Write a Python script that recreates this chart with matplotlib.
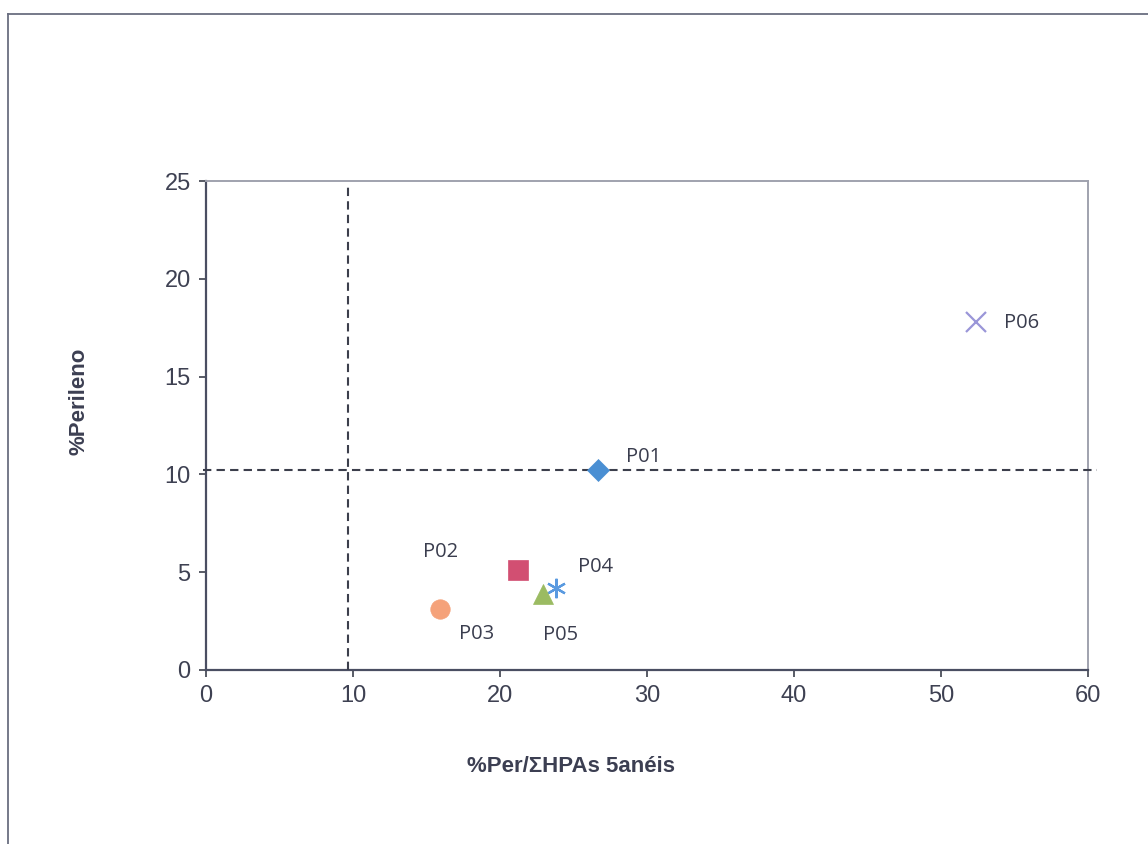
import matplotlib.pyplot as plt
from matplotlib.lines import Line2D

# Sample points: %Per/ΣHPAs 5 anéis vs %Perileno
samples = ["P01", "P02", "P03", "P04", "P05", "P06"]
per_ratio = [26.7, 21.2, 15.9, 23.8, 22.9, 52.4]
perileno = [10.2, 5.1, 3.1, 4.2, 3.9, 17.8]

markers = ["D", "s", "o", "*", "^", "x"]
colors = ["#4a8fd3", "#d24f72", "#f5a27a", "#5a9ae0", "#9bbb62", "#9a96d8"]
sizes = [11, 15, 14, 14, 15, 14]

# label offsets in points (dx, dy)
label_offsets = [(20, 10), (-68, 13), (14, -18), (16, 15), (0, -30), (20, -1)]

# reference limits drawn as dashed lines
x_limit = 9.66
y_limit = 10.2

plt.rcParams["font.family"] = ["Liberation Sans", "DejaVu Sans"]

fig = plt.figure(figsize=(11.48, 8.44), dpi=100)
ax = fig.add_axes([0.1794, 0.2062, 0.7683, 0.5793])

# outer frame around the chart
fig.add_artist(Line2D([0.007, 0.007], [0.0, 0.983], color="#6a6e80", lw=1.3,
                      transform=fig.transFigure))
fig.add_artist(Line2D([0.007, 1.0], [0.983, 0.983], color="#6a6e80", lw=1.3,
                      transform=fig.transFigure))

for s, x, y, m, c, ms, off in zip(samples, per_ratio, perileno, markers,
                                  colors, sizes, label_offsets):
    mew = 1.6 if m in ("x", "*") else 0.5
    if m == "*":
        ax.plot(x, y, marker=(6, 2, 0), color=c, markersize=ms,
                markeredgewidth=mew, linestyle="none", zorder=4)
    else:
        ax.plot(x, y, marker=m, color=c, markersize=ms, markeredgecolor=c,
                markeredgewidth=mew, linestyle="none", zorder=4)
    ax.annotate(s, (x, y), xytext=off, textcoords="offset points",
                fontsize=14.5, color="#3a3d4e", family=["Open Sans", "DejaVu Sans"],
                va="center", ha="left")

ax.plot([x_limit, x_limit], [0, 24.8], linestyle=(0, (4, 2.5)),
        color="#3c3f4c", lw=1.5, zorder=3)
ax.plot([-0.2, 60.6], [y_limit, y_limit], linestyle=(0, (4, 2.5)),
        color="#3c3f4c", lw=1.5, zorder=3, clip_on=False)

ax.set_xlim(0, 60)
ax.set_ylim(0, 25)
ax.set_xticks(range(0, 61, 10))
ax.set_yticks(range(0, 26, 5))
ax.tick_params(labelsize=17, colors="#3c3f4c", labelcolor="#3e4152",
               length=5, width=1.2, direction="out", pad=6)

for side in ("left", "bottom"):
    ax.spines[side].set_color("#4a4e62")
    ax.spines[side].set_linewidth(1.6)
for side in ("top", "right"):
    ax.spines[side].set_color("#a0a2ae")
    ax.spines[side].set_linewidth(1.4)

# axis titles sit off-centre relative to the plot box
fig.text(571 / 1148, 1 - 766 / 844, "%Per/ΣHPAs 5anéis", fontsize=16,
         fontweight="bold", color="#3c3f52", ha="center", va="center")
fig.text(79 / 1148, 1 - 401 / 844, "%Perileno", fontsize=16,
         fontweight="bold", color="#3c3f52", ha="center", va="center",
         rotation=90)

fig.savefig("out.png", dpi=100)
